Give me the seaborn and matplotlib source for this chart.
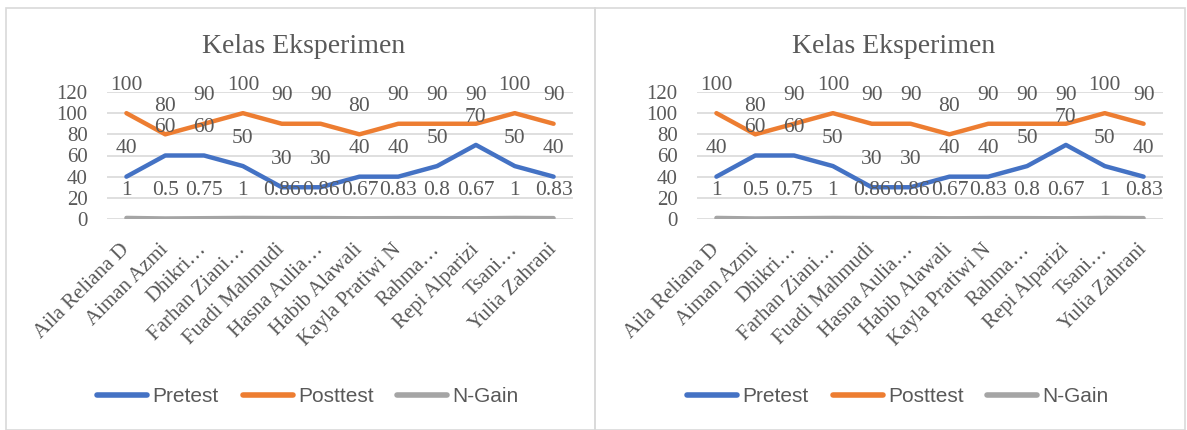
import pandas as pd
import numpy as np
import seaborn as sns
import matplotlib.pyplot as plt
from matplotlib.patches import Rectangle

names = ['Aila Reliana D', 'Aiman Azmi', 'Dhikri…', 'Farhan Ziani…', 'Fuadi Mahmudi',
         'Hasna Aulia…', 'Habib Alawali', 'Kayla Pratiwi N', 'Rahma…', 'Repi Alparizi',
         'Tsani…', 'Yulia Zahrani']
pretest = [40, 60, 60, 50, 30, 30, 40, 40, 50, 70, 50, 40]
posttest = [100, 80, 90, 100, 90, 90, 80, 90, 90, 90, 100, 90]
ngain = [1, 0.5, 0.75, 1, 0.86, 0.86, 0.67, 0.83, 0.8, 0.67, 1, 0.83]
series = ['Pretest', 'Posttest', 'N-Gain']
colors = {'Pretest': '#4472C4', 'Posttest': '#ED7D31', 'N-Gain': '#A5A5A5'}
yticks = [0, 20, 40, 60, 80, 100, 120]
title = 'Kelas Eksperimen'

sns.set_style('white')
plt.rcParams['font.family'] = ['Liberation Serif', 'DejaVu Serif']

n = len(names)
df = pd.DataFrame({
    'pos': list(range(n)) * 3,
    'Nilai': pretest + posttest + ngain,
    'Seri': ['Pretest'] * n + ['Posttest'] * n + ['N-Gain'] * n,
})

W, H = 1187, 430
fig = plt.figure(figsize=(W / 100, H / 100), dpi=100)
text_col = '#595959'
grid_col = '#D9D9D9'

# panel frames
fig.patches.append(Rectangle((6 / W, 0), (595 - 6) / W, 1 - 8 / H, transform=fig.transFigure,
                             fill=False, edgecolor=grid_col, lw=1.2))
fig.patches.append(Rectangle((595 / W, 0), (1185 - 595) / W, 1 - 8 / H, transform=fig.transFigure,
                             fill=False, edgecolor=grid_col, lw=1.2))

for off in [0, 590]:
    ax = fig.add_axes([(107 + off) / W, 1 - 219 / H, 466 / W, 127 / H])
    sns.lineplot(data=df, x='pos', y='Nilai', hue='Seri', hue_order=series, palette=colors,
                 lw=3.2, sort=False, ax=ax, solid_capstyle='round', solid_joinstyle='round')
    vals = {'Pretest': pretest, 'Posttest': posttest, 'N-Gain': ngain}
    for s in series:
        for i, v in enumerate(vals[s]):
            ax.annotate(f'{v:g}', (i, v), xytext=(0, 20), textcoords='offset points',
                        ha='center', va='center', fontsize=15.5, color=text_col,
                        annotation_clip=False)
    ax.set_xlim(-0.5, n - 0.5)
    ax.set_ylim(0, 120)
    ax.set_yticks(yticks)
    ax.set_xticks(range(n))
    ax.set_xticklabels(names, rotation=45, ha='right', va='center', rotation_mode='anchor')
    ax.tick_params(axis='both', length=0, labelsize=15, labelcolor=text_col)
    ax.tick_params(axis='x', pad=20)
    ax.tick_params(axis='y', pad=14)
    ax.grid(axis='y', color=grid_col, lw=1.2)
    ax.set_axisbelow(True)
    for sp in ax.spines.values():
        sp.set_visible(False)
    ax.set_xlabel('')
    ax.set_ylabel('')

    handles, labels = ax.get_legend_handles_labels()
    for h in handles:
        h.set_linewidth(4)
        h.set_solid_capstyle('round')
    ax.legend(handles, labels, loc='center', bbox_to_anchor=((308 + off) / W, 1 - 397 / H),
              bbox_transform=fig.transFigure, ncol=3, frameon=False, handlelength=2.4,
              handletextpad=0.25, columnspacing=1.15,
              prop={'family': 'Liberation Sans', 'size': 15}, labelcolor=text_col)

    fig.text((304 + off) / W, 1 - 52.7 / H, title, ha='center', va='baseline',
             fontsize=20, color=text_col)

plt.savefig('out.png', dpi=100)
